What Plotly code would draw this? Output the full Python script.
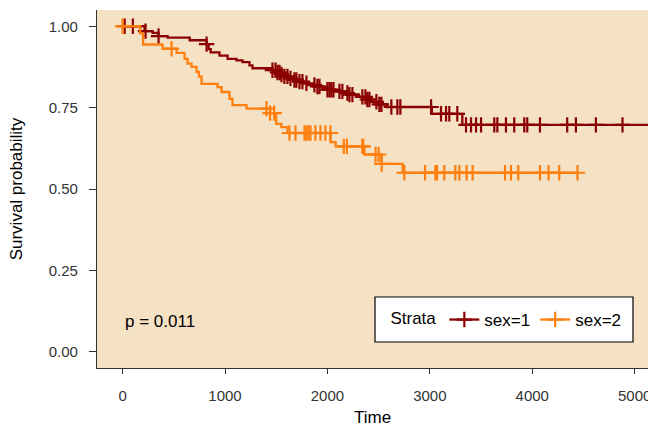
import numpy as np
import plotly.graph_objects as go

# ---- data ----
sex1_event_times = [215, 293, 350, 440, 655, 820, 840, 860, 946, 1025, 1112, 1171, 1239, 1268,
                    1463, 1500, 1540, 1580, 1620, 1660, 1700, 1760, 1800, 1880, 1950, 2000,
                    2080, 2150, 2200, 2300, 2380, 2430, 2500, 2580, 3020, 3317]
sex1_surv = [0.985, 0.980, 0.970, 0.965, 0.957, 0.945, 0.930, 0.920, 0.910, 0.900, 0.895, 0.890,
             0.880, 0.871, 0.865, 0.858, 0.852, 0.846, 0.840, 0.835, 0.830, 0.825, 0.820, 0.815,
             0.810, 0.805, 0.800, 0.795, 0.790, 0.783, 0.775, 0.768, 0.760, 0.752, 0.731, 0.697]
sex1_censor = [20, 100, 224, 351, 820, 1463, 1493, 1512, 1532, 1551, 1580, 1610, 1639, 1678, 1697,
               1727, 1756, 1795, 1873, 1902, 1922, 2000, 2020, 2039, 2059, 2117, 2146, 2195,
               2215, 2244, 2341, 2371, 2390, 2410, 2478, 2507, 2527, 2624, 2683, 2712, 3012,
               3109, 3158, 3190, 3268, 3353, 3402, 3451, 3500, 3629, 3659, 3743, 3824, 3922,
               3951, 4075, 4341, 4426, 4621, 4881, 5200]

sex2_event_times = [172, 200, 390, 527, 605, 634, 673, 722, 745, 771, 927, 966, 1044, 1073, 1210,
                    1440, 1500, 1550, 1610, 2030, 2080, 2361, 2527, 2735]
sex2_surv = [0.978, 0.944, 0.931, 0.918, 0.900, 0.885, 0.875, 0.860, 0.845, 0.823, 0.813, 0.798,
             0.777, 0.758, 0.747, 0.733, 0.700, 0.690, 0.672, 0.644, 0.631, 0.606, 0.577, 0.550]
sex2_censor = [0, 478, 1405, 1440, 1480, 1629, 1688, 1776, 1795, 1815, 1834, 1883, 1932, 1980,
               2029, 2160, 2190, 2340, 2350, 2470, 2500, 2530, 2751, 2953, 3054, 3070, 3141,
               3249, 3288, 3359, 3418, 3734, 3792, 3863, 4075, 4159, 4263, 4442]

strata = ["sex=1", "sex=2"]
colors = ["#8B0000", "#FF7F0E"]
x_ticks = [0, 1000, 2000, 3000, 4000, 5000]
y_ticks = [0.0, 0.25, 0.5, 0.75, 1.0]
y_tick_text = ["0.00", "0.25", "0.50", "0.75", "1.00"]
p_text = "p = 0.011"
x_title = "Time"
y_title = "Survival probability"

FONT = "Liberation Sans, Arial, sans-serif"


def surv_at(t, times, surv):
    s = 1.0
    for ti, si in zip(times, surv):
        if ti <= t:
            s = si
    return s


fig = go.Figure()
groups = [(sex1_event_times, sex1_surv, sex1_censor), (sex2_event_times, sex2_surv, sex2_censor)]
for (times, surv, cens), name, col in zip(groups, strata, colors):
    end_t = max(max(cens), max(times))
    xs = [0] + list(times) + [end_t]
    ys = [1.0] + list(surv) + [surv[-1]]
    fig.add_trace(go.Scatter(x=xs, y=ys, mode="lines", line=dict(color=col, width=2.3, shape="hv"),
                             showlegend=False, legendgroup=name, hoverinfo="skip"))
    cy = [surv_at(t, times, surv) for t in cens]
    fig.add_trace(go.Scatter(x=cens, y=cy, mode="markers",
                             marker=dict(symbol="cross-thin", size=11, line=dict(color=col, width=2.2)),
                             showlegend=False, legendgroup=name))
    fig.add_trace(go.Scatter(x=[None], y=[None], mode="lines+markers", name=name, legendgroup=name,
                             line=dict(color=col, width=2.3),
                             marker=dict(symbol="cross-thin", size=11, line=dict(color=col, width=2.2))))

fig.add_annotation(x=0, y=0.092, xref="x", yref="y", text=p_text, showarrow=False,
                   xanchor="left", yanchor="middle", font=dict(size=17, color="black", family=FONT))

# x-axis title placed as annotation
fig.add_annotation(x=0.5, y=(368 - 418) / 358, xref="paper", yref="paper", text=x_title,
                   showarrow=False, xanchor="center", yanchor="middle",
                   font=dict(size=17, color="black", family=FONT))

# legend frame (paper coords of the plot area)
fig.add_shape(type="rect", xref="paper", yref="paper",
              x0=(375 - 97) / 551, x1=(633 - 97) / 551,
              y0=(368 - 342) / 358, y1=(368 - 297) / 358,
              line=dict(color="black", width=1.2), fillcolor="white", layer="above")

axis_common = dict(showgrid=False, zeroline=False, showline=True, linecolor="#333333", linewidth=1.2,
                   ticks="outside", tickcolor="#333333", tickwidth=1.2, ticklabeloverflow="allow",
                   automargin=False,
                   tickfont=dict(size=15, color="#333333", family=FONT))

fig.update_layout(
    width=648, height=428,
    margin=dict(l=97, r=0, t=10, b=60, autoexpand=False),
    paper_bgcolor="white", plot_bgcolor="#F5E1C4",
    font=dict(family=FONT, color="black"),
    xaxis=dict(range=[-250, 5130], tickvals=x_ticks, ticklen=5, ticklabelstandoff=9, **axis_common),
    yaxis=dict(range=[-0.05, 1.05], tickvals=y_ticks, ticktext=y_tick_text, ticklen=7,
               ticklabelstandoff=8,
               title=dict(text=y_title, font=dict(size=17, family=FONT), standoff=21),
               **axis_common),
    legend=dict(orientation="h", x=(379 - 97) / 551, y=(368 - 320) / 358, xanchor="left", yanchor="middle",
                bgcolor="rgba(0,0,0,0)", borderwidth=0,
                title=dict(text="&nbsp;&nbsp;Strata", font=dict(size=17, family=FONT), side="left"),
                font=dict(size=17, family=FONT, color="black"), itemwidth=30),
    showlegend=True,
)

fig.write_html("out.html")
